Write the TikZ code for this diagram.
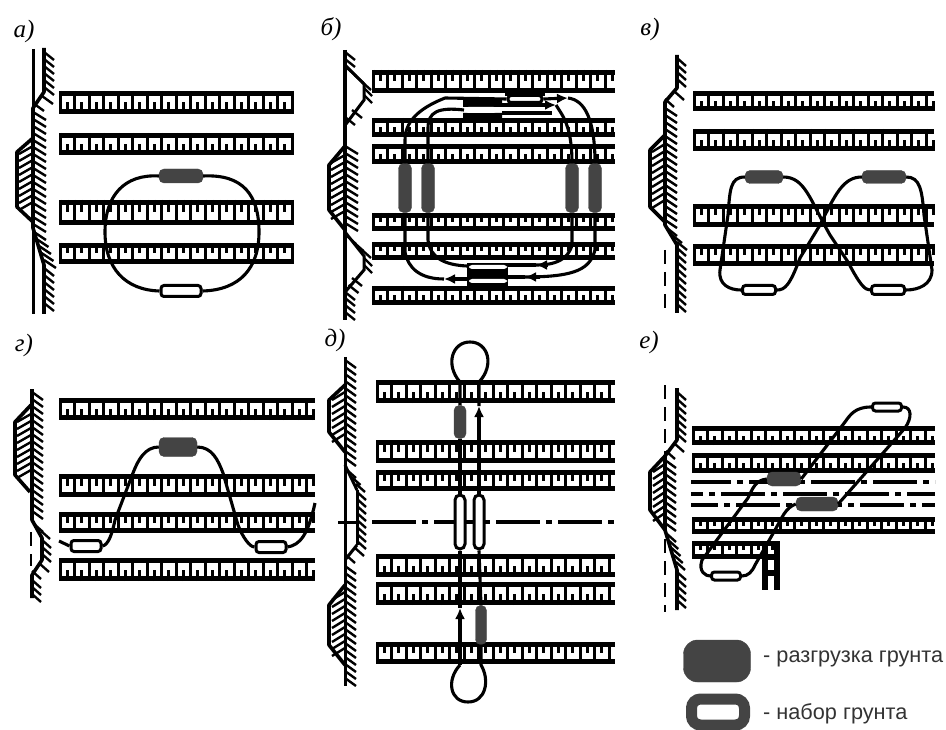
\documentclass[tikz,border=0pt]{standalone}
\usepackage{fontspec}
\setmainfont{Liberation Serif}
\newfontfamily\legendfont{Liberation Sans}
\usetikzlibrary{arrows.meta}

\newcommand{\rail}[5]{% x1, x2, top, bottom, 1 = stub from below, 0 = stub from above
  \pgfmathsetmacro{\xnext}{#1+14.5}
  \pgfmathsetmacro{\ymid}{(#3+#4)/2}
  \pgfmathsetmacro{\ystub}{#5==1 ? #4 : #3}
  \foreach \xa in {#1,\xnext,...,#2} {
    \draw[tooth] (\xa,#3) -- (\xa,#4);
    \pgfmathparse{\xa+7.25<#2 ? 1 : 0}
    \ifnum\pgfmathresult=1 \draw[tooth] (\xa+7.25,\ystub) -- (\xa+7.25,\ymid); \fi
  }
  \draw[railline] (#1,#3+2.6) -- (#2,#3+2.6);
  \draw[railline] (#1,#4-2.6) -- (#2,#4-2.6);
}
\newcommand{\hatch}[5]{% x1, y1, x2, y2, reach of a tick
  \pgfmathtruncatemacro{\nt}{(#4-#2)/7}
  \foreach \k in {0,...,\nt} {
    \pgfmathsetmacro{\xt}{#1+(#3-#1)*\k/max(\nt,1)}
    \draw[banktick] (\xt,#2+7*\k) -- (\xt+#5,#2+7*\k+8);
  }
}

\begin{document}
\begin{tikzpicture}[
  x=1pt, y=-1pt,
  railline/.style={line width=5.2pt},
  tooth/.style={line width=3pt},
  trip/.style={line width=3.1pt, line join=round},
  triparr/.style={trip, -{Latex[length=11pt,width=10pt]}},
  dumpbox/.style={fill=dumpgrey, draw=dumpgrey, rounded corners=5pt, inner sep=0pt},
  loadbox/.style={draw, line width=3pt, fill=white, rounded corners=3pt, inner sep=0pt},
  sz/.style 2 args={minimum width=#1pt, minimum height=#2pt},
  bankline/.style={line width=3.6pt, line join=round},
  banktick/.style={line width=2.4pt},
  thinline/.style={line width=3pt},
  limit/.style={line width=2.8pt, dash pattern=on 14pt off 8pt},
  axis/.style={line width=4.2pt, dash pattern=on 44pt off 6pt on 6pt off 6pt},
  tag/.style={font=\itshape\fontsize{25}{25}\selectfont, inner sep=0pt},
  legendtext/.style={font=\legendfont\fontsize{21.7}{22}\selectfont, anchor=west, inner sep=0pt, text=black!80}
]
\definecolor{dumpgrey}{HTML}{444444}
\useasboundingbox (0,0) rectangle (946,730);

\node[tag] (ta) at (24,31) {а)};
\node[tag] (tb) at (331,29) {б)};
\node[tag] (tv) at (650,29) {в)};
\node[tag] (tg) at (24,345) {г)};
\node[tag] (td) at (335,340) {д)};
\node[tag] (te) at (649,342) {е)};

% a
\draw[thinline] (33,49) -- (33,314);
\draw[bankline] (44,48) -- (44,92) -- (33,108) -- (33,228) -- (44,265) -- (44,314);
\draw[bankline] (33,138) -- (17,152) -- (17,207) -- (33,222);
\hatch{44}{52}{44}{90}{10}
\hatch{42}{96}{33}{108}{11}
\hatch{33}{112}{33}{226}{13}
\hatch{34}{232}{44}{262}{12}
\hatch{44}{268}{44}{306}{10}
\hatch{33}{146}{33}{206}{-14}
\rail{60}{292}{91}{114}{1}
\rail{60}{292}{133}{155}{1}
\rail{60}{292}{200}{225}{0}
\rail{60}{292}{243}{264}{0}
\node[dumpbox, sz={44}{14}] (adump) at (181,176) {};
\node[loadbox, sz={40}{11}] (aload) at (181,291) {};
\draw[trip] (adump.east) .. controls (243,174) and (259,195) .. (259,232) .. controls (259,268) and (240,290) .. (aload.east);
\draw[trip] (adump.west) .. controls (125,174) and (105,195) .. (105,232) .. controls (105,268) and (125,290) .. (aload.west);

% b
\draw[bankline] (345,50) -- (345,320);
\draw[thinline] (345,65) -- (364,84) -- (364,100) -- (346,124);
\draw[thinline] (345,232) -- (364,256) -- (364,270) -- (346,291);
\draw[bankline] (345,146) -- (329,165) -- (329,210) -- (345,230);
\hatch{345}{52}{345}{64}{10}
\hatch{347}{68}{362}{84}{9}
\hatch{364}{88}{364}{100}{8}
\hatch{352}{110}{345}{122}{10}
\hatch{345}{146}{345}{226}{13}
\hatch{347}{236}{362}{254}{9}
\hatch{364}{258}{364}{270}{8}
\hatch{352}{278}{345}{292}{10}
\hatch{345}{298}{345}{312}{10}
\hatch{345}{155}{345}{215}{-14}
\rail{373}{615}{70}{93}{0}
\rail{373}{615}{118}{137}{1}
\rail{373}{615}{144}{164}{1}
\rail{373}{615}{213}{231}{0}
\rail{373}{615}{242}{260}{0}
\rail{373}{615}{286}{305}{1}
\node[dumpbox, sz={13}{49}] (bd1) at (405,188) {};
\node[dumpbox, sz={13}{49}] (bd2) at (428,188) {};
\node[dumpbox, sz={13}{49}] (bd3) at (572,188) {};
\node[dumpbox, sz={13}{49}] (bd4) at (595,188) {};
\fill (505,91) rectangle (545,96);
\fill (463,100) rectangle (502,107) (463,113) rectangle (502,119);
\fill (467,263) rectangle (508,287);
\node[loadbox, sz={34}{7}] (bl1) at (525,99) {};
\node[loadbox, sz={31}{6}, draw=none] (bl2) at (481,110) {};
\node[loadbox, sz={38}{4}, draw=none] (bl3) at (488,267) {};
\node[loadbox, sz={38}{4}, draw=none] (bl4) at (488,281) {};
\coordinate (barrt) at (568,98);
\coordinate (barrm) at (556,105);
\coordinate (barrl) at (444,279);
\coordinate (barrc) at (536,265);
\coordinate (barrd) at (525,277);
\draw[trip] (bd1.north) -- (405,140) .. controls (405,118) and (425,106) .. (445,98) -- (bl1.west);
\draw[triparr] (bl1.east) -- (barrt);
\draw[trip] (barrt) .. controls (585,100) and (595,120) .. (bd4.north);
\draw[trip] (bd2.north) -- (428,128) .. controls (428,112) and (438,107) .. (bl2.west);
\draw[triparr] (502,105) -- (barrm);
\draw[trip] (barrm) .. controls (562,115) and (572,125) .. (bd3.north);
\draw[trip] (502,113) -- (552,113);
\draw[trip] (bd1.south) -- (405,252) .. controls (408,268) and (420,279) .. (barrl);
\draw[triparr] (467,279) -- (barrl);
\draw[trip] (bd2.south) -- (428,240) .. controls (430,258) and (445,265) .. (467,266);
\draw[trip] (bd3.south) -- (572,245) .. controls (568,260) and (555,265) .. (barrc);
\draw[triparr] (548,265) -- (barrc);
\draw[trip] (barrc) -- (508,265);
\draw[trip] (bd4.south) -- (595,250) .. controls (590,268) and (578,277) .. (barrd);
\draw[triparr] (540,277) -- (barrd);
\draw[trip] (barrd) -- (508,277);

% v
\draw[limit] (665,250) -- (665,313);
\draw[bankline] (677,55) -- (677,88) -- (665,102) -- (665,225) -- (677,245) -- (677,313);
\draw[bankline] (665,135) -- (650,150) -- (650,207) -- (665,222);
\hatch{677}{58}{677}{84}{9}
\hatch{675}{92}{665}{102}{9}
\hatch{665}{108}{665}{222}{12}
\hatch{667}{228}{677}{244}{10}
\hatch{677}{248}{677}{304}{9}
\hatch{665}{144}{665}{204}{-13}
\rail{694}{934}{91}{111}{1}
\rail{694}{934}{129}{151}{1}
\rail{694}{934}{204}{227}{0}
\rail{694}{934}{244}{266}{0}
\node[dumpbox, sz={38}{13}] (vd1) at (764,177) {};
\node[dumpbox, sz={44}{13}] (vd2) at (884,177) {};
\node[loadbox, sz={33}{9}] (vl1) at (759,290) {};
\node[loadbox, sz={33}{9}] (vl2) at (888,290) {};
\draw[trip] (vd1.west) .. controls (730,177) and (730,190) .. (728,215) -- (720,270) .. controls (718,285) and (730,290) .. (vl1.west);
\draw[trip] (vd1.east) .. controls (805,177) and (810,200) .. (830,235) -- (848,262) .. controls (860,285) and (865,290) .. (vl2.west);
\draw[trip] (vd2.west) .. controls (843,177) and (835,195) .. (820,225) -- (800,258) .. controls (790,285) and (785,290) .. (vl1.east);
\draw[trip] (vd2.east) .. controls (920,177) and (922,190) .. (924,215) -- (932,270) .. controls (932,285) and (918,290) .. (vl2.east);

% g
\draw[limit] (31,532) -- (31,566);
\draw[bankline] (32,389) -- (32,520) -- (42,538) -- (42,560) -- (32,575) -- (32,598);
\draw[bankline] (31,405) -- (15,422) -- (15,475) -- (30,492);
\hatch{32}{392}{32}{516}{11}
\hatch{34}{524}{41}{536}{9}
\hatch{42}{540}{42}{558}{9}
\hatch{40}{564}{32}{576}{9}
\hatch{32}{580}{32}{594}{9}
\hatch{31}{414}{31}{474}{-14}
\rail{60}{315}{398}{420}{1}
\rail{60}{315}{474}{497}{0}
\rail{60}{315}{512}{533}{0}
\rail{60}{315}{558}{581}{1}
\node[dumpbox, sz={38}{19}] (gdump) at (178,447) {};
\node[loadbox, sz={30}{11}] (gl1) at (86,546) {};
\node[loadbox, sz={30}{11}] (gl2) at (271,547) {};
\coordinate (gtail) at (59,541);
\coordinate (gend) at (315,503);
\draw[trip] (gtail) -- (gl1.west);
\draw[trip] (gdump.west) .. controls (145,447) and (138,460) .. (133,473) -- (115,520) .. controls (112,535) and (108,545) .. (gl1.east);
\draw[trip] (gdump.east) .. controls (212,447) and (218,460) .. (223,473) -- (238,525) .. controls (243,538) and (250,547) .. (gl2.west);
\draw[trip] (gl2.east) .. controls (300,545) and (308,535) .. (gend);

% d
\draw[thinline] (345,357) -- (345,686) (357,490) -- (357,545) (338,522) -- (359,522);
\draw[thinline] (345,465) -- (357,490) (357,545) -- (345,560);
\draw[bankline] (345,385) -- (329,400) -- (329,432) -- (345,452);
\draw[bankline] (345,585) -- (329,605) -- (329,645) -- (345,665);
\hatch{345}{360}{345}{462}{11}
\hatch{347}{470}{356}{488}{9}
\hatch{357}{492}{357}{542}{9}
\hatch{355}{548}{346}{560}{9}
\hatch{345}{566}{345}{678}{11}
\hatch{345}{392}{345}{436}{-13}
\hatch{345}{592}{345}{648}{-13}
\rail{377}{615}{380}{403}{1}
\rail{377}{615}{440}{463}{0}
\rail{377}{615}{470}{491}{0}
\draw[axis] (372,522) -- (618,522);
\rail{377}{615}{554}{577}{1}
\rail{377}{615}{582}{605}{1}
\rail{377}{615}{642}{664}{0}
\node[dumpbox, sz={12}{33}] (dd1) at (460,422) {};
\node[dumpbox, sz={11}{39}] (dd2) at (481,625) {};
\node[loadbox, sz={10}{54}, rounded corners=5pt] (dl1) at (460,522) {};
\node[loadbox, sz={10}{54}, rounded corners=5pt] (dl2) at (479,522) {};
\coordinate (darrt) at (479,406);
\coordinate (darrb) at (460,608);
\draw[trip] (dl1.north) -- (dd1.south);
\draw[triparr] (dl2.north) -- (darrt);
\draw[trip] (darrt) -- (479,382) .. controls (495,365) and (488,342) .. (470,342) .. controls (452,342) and (445,365) .. (460,382) -- (dd1.north);
\draw[trip] (dl1.south) -- (darrb);
\draw[triparr] (460,665) -- (darrb);
\draw[trip] (460,665) .. controls (446,680) and (450,702) .. (468,702) .. controls (486,702) and (490,680) .. (481,665) -- (dd2.south);
\draw[trip] (dl2.south) -- (dd2.north);

% e
\draw[limit] (665,385) -- (665,612);
\draw[bankline] (677,388) -- (677,440) -- (665,456) -- (665,530) -- (677,570) -- (677,610);
\draw[bankline] (665,456) -- (650,472) -- (650,510) -- (665,530);
\hatch{677}{392}{677}{436}{9}
\hatch{675}{444}{666}{456}{9}
\hatch{665}{460}{665}{526}{11}
\hatch{667}{534}{676}{566}{9}
\hatch{677}{572}{677}{604}{9}
\hatch{665}{464}{665}{514}{-12}
\rail{693}{935}{426}{445}{1}
\rail{693}{935}{453}{473}{1}
\draw[axis, dash phase=-58pt] (691,482) -- (935,482);
\draw[axis, dash phase=-30pt] (691,494) -- (935,494);
\draw[axis, dash phase=-45pt] (691,505) -- (935,505);
\rail{693}{935}{517}{534}{0}
\rail{693}{775}{541}{559}{0}
\draw[railline] (765,541) -- (765,590);
\draw[railline] (777,541) -- (777,590);
\draw[railline] (765,557) -- (777,557) (765,573) -- (777,573);
\node[dumpbox, sz={34}{14}] (ed1) at (784,479) {};
\node[dumpbox, sz={42}{14}] (ed2) at (817,504) {};
\node[loadbox, sz={29}{8}] (el1) at (887,407) {};
\node[loadbox, sz={29}{8}] (el2) at (726,576) {};
\draw[trip] (el1.west) .. controls (855,407) and (850,415) .. (845,422) -- (ed1.east);
\draw[trip] (el1.east) .. controls (912,407) and (912,418) .. (905,428) -- (ed2.east);
\draw[trip] (ed1.west) .. controls (755,480) and (752,490) .. (748,498) -- (702,560) .. controls (698,572) and (706,576) .. (el2.west);
\draw[trip] (ed2.west) .. controls (785,508) and (782,518) .. (775,530) -- (755,565) .. controls (752,572) and (748,576) .. (el2.east);

% legend
\node[dumpbox, rounded corners=14pt, sz={67}{42}] (keydump) at (717,661) {};
\node[draw=dumpgrey, line width=11pt, rounded corners=9pt, inner sep=0pt, sz={53}{26}] (keyload) at (718,712) {};
\node[legendtext] (keydumptext) at (763,659) {- разгрузка грунта};
\node[legendtext] (keyloadtext) at (763,714) {- набор грунта};
\end{tikzpicture}
\end{document}
